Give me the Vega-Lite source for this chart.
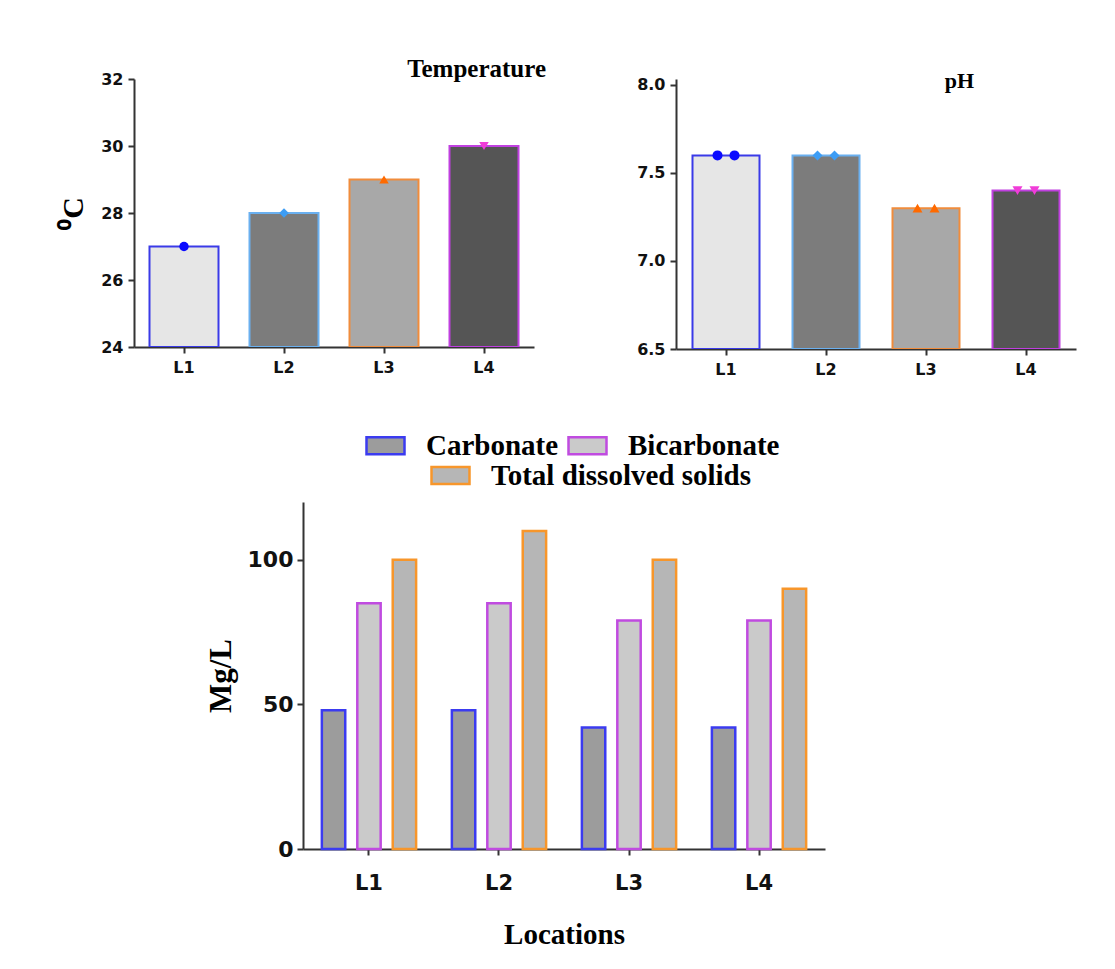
{
  "$schema": "https://vega.github.io/schema/vega-lite/v6.json",
  "background": "white",
  "padding": {"left": 58, "top": 57, "right": 5, "bottom": 5},
  "config": {
    "view": {"stroke": null},
    "font": "Liberation Serif",
    "axis": {
      "domainColor": "#333333", "domainWidth": 2, "tickColor": "#333333", "tickWidth": 2, "tickSize": 6,
      "labelFont": "DejaVu Sans", "labelFontWeight": "bold", "labelColor": "#111111", "grid": false,
      "titleFont": "Liberation Serif", "titleFontWeight": "bold", "titleColor": "#000000"
    },
    "title": {"font": "Liberation Serif", "fontWeight": "bold", "color": "#000000"}
  },
  "datasets": {
    "temp": [
      {"loc": "L1", "value": 27},
      {"loc": "L2", "value": 28},
      {"loc": "L3", "value": 29},
      {"loc": "L4", "value": 30}
    ],
    "ph": [
      {"loc": "L1", "rep": "a", "value": 7.6},
      {"loc": "L1", "rep": "b", "value": 7.6},
      {"loc": "L2", "rep": "a", "value": 7.6},
      {"loc": "L2", "rep": "b", "value": 7.6},
      {"loc": "L3", "rep": "a", "value": 7.3},
      {"loc": "L3", "rep": "b", "value": 7.3},
      {"loc": "L4", "rep": "a", "value": 7.4},
      {"loc": "L4", "rep": "b", "value": 7.4}
    ],
    "ions": [
      {"loc": "L1", "param": "Carbonate", "value": 48},
      {"loc": "L1", "param": "Bicarbonate", "value": 85},
      {"loc": "L1", "param": "Total dissolved solids", "value": 100},
      {"loc": "L2", "param": "Carbonate", "value": 48},
      {"loc": "L2", "param": "Bicarbonate", "value": 85},
      {"loc": "L2", "param": "Total dissolved solids", "value": 110},
      {"loc": "L3", "param": "Carbonate", "value": 42},
      {"loc": "L3", "param": "Bicarbonate", "value": 79},
      {"loc": "L3", "param": "Total dissolved solids", "value": 100},
      {"loc": "L4", "param": "Carbonate", "value": 42},
      {"loc": "L4", "param": "Bicarbonate", "value": 79},
      {"loc": "L4", "param": "Total dissolved solids", "value": 90}
    ]
  },
  "resolve": {"scale": {"fill": "independent", "stroke": "independent", "color": "independent", "shape": "independent", "xOffset": "independent"}},
  "spacing": 48,
  "vconcat": [
    {
      "spacing": 90,
      "hconcat": [
        {
          "width": 400,
          "height": 268,
          "data": {"name": "temp"},
          "title": {"text": "Temperature", "anchor": "end", "frame": "group", "fontSize": 25, "baseline": "alphabetic", "offset": -31, "dx": 12},
          "encoding": {
            "x": {"field": "loc", "type": "nominal", "scale": {"paddingInner": 0.31, "paddingOuter": 0.155},
                  "axis": {"title": null, "labelAngle": 0, "labelFontSize": 16, "labelPadding": 6}},
            "y": {"field": "value", "type": "quantitative", "scale": {"domain": [24, 32], "nice": false, "zero": false},
                  "axis": {"values": [24, 26, 28, 30, 32], "format": "d", "title": "⁰C", "titleFontSize": 30, "titlePadding": 12, "labelFontSize": 16, "labelPadding": 5}}
          },
          "layer": [
            {
              "mark": {"type": "bar", "strokeWidth": 2, "clip": true},
              "encoding": {
                "y2": {"datum": 24},
                "fill": {"field": "loc", "type": "nominal", "legend": null,
                         "scale": {"domain": ["L1", "L2", "L3", "L4"], "range": ["#e6e6e6", "#7c7c7c", "#a8a8a8", "#555555"]}},
                "stroke": {"field": "loc", "type": "nominal", "legend": null,
                           "scale": {"domain": ["L1", "L2", "L3", "L4"], "range": ["#3a3ae8", "#6ab0f0", "#f08c3c", "#c040e0"]}}
              }
            },
            {
              "mark": {"type": "point", "filled": true, "size": 90, "opacity": 1},
              "encoding": {
                "color": {"field": "loc", "type": "nominal", "legend": null,
                          "scale": {"domain": ["L1", "L2", "L3", "L4"], "range": ["#0a0aff", "#3d9df5", "#ff6a00", "#f03cd8"]}},
                "shape": {"field": "loc", "type": "nominal", "legend": null,
                          "scale": {"domain": ["L1", "L2", "L3", "L4"], "range": ["circle", "diamond", "triangle-up", "triangle-down"]}}
              }
            }
          ]
        },
        {
          "width": 400,
          "height": 270,
          "data": {"name": "ph"},
          "title": {"text": "pH", "anchor": "end", "frame": "group", "fontSize": 22, "baseline": "alphabetic", "offset": -33, "dx": -102},
          "encoding": {
            "x": {"field": "loc", "type": "nominal", "scale": {"paddingInner": 0.33, "paddingOuter": 0.165},
                  "axis": {"title": null, "labelAngle": 0, "labelFontSize": 16, "labelPadding": 6}},
            "y": {"field": "value", "type": "quantitative", "scale": {"domain": [6.5, 8.034], "nice": false, "zero": false},
                  "axis": {"values": [6.5, 7.0, 7.5, 8.0], "format": ".1f", "title": null, "labelFontSize": 16, "labelPadding": 5}}
          },
          "layer": [
            {
              "mark": {"type": "bar", "strokeWidth": 2, "clip": true},
              "encoding": {
                "y": {"aggregate": "mean", "field": "value", "type": "quantitative"},
                "y2": {"datum": 6.5},
                "fill": {"field": "loc", "type": "nominal", "legend": null,
                         "scale": {"domain": ["L1", "L2", "L3", "L4"], "range": ["#e6e6e6", "#7c7c7c", "#a8a8a8", "#555555"]}},
                "stroke": {"field": "loc", "type": "nominal", "legend": null,
                           "scale": {"domain": ["L1", "L2", "L3", "L4"], "range": ["#3a3ae8", "#6ab0f0", "#f08c3c", "#c040e0"]}}
              }
            },
            {
              "transform": [{"filter": "datum.rep === 'a'"}],
              "mark": {"type": "point", "filled": true, "size": 100, "opacity": 1, "xOffset": -8.5},
              "encoding": {
                "color": {"field": "loc", "type": "nominal", "legend": null,
                          "scale": {"domain": ["L1", "L2", "L3", "L4"], "range": ["#0a0aff", "#3d9df5", "#ff6a00", "#f03cd8"]}},
                "shape": {"field": "loc", "type": "nominal", "legend": null,
                          "scale": {"domain": ["L1", "L2", "L3", "L4"], "range": ["circle", "diamond", "triangle-up", "triangle-down"]}}
              }
            },
            {
              "transform": [{"filter": "datum.rep === 'b'"}],
              "mark": {"type": "point", "filled": true, "size": 100, "opacity": 1, "xOffset": 8.5},
              "encoding": {
                "color": {"field": "loc", "type": "nominal", "legend": null,
                          "scale": {"domain": ["L1", "L2", "L3", "L4"], "range": ["#0a0aff", "#3d9df5", "#ff6a00", "#f03cd8"]}},
                "shape": {"field": "loc", "type": "nominal", "legend": null,
                          "scale": {"domain": ["L1", "L2", "L3", "L4"], "range": ["circle", "diamond", "triangle-up", "triangle-down"]}}
              }
            }
          ]
        }
      ]
    },
    {
      "spacing": 0,
      "resolve": {"scale": {"xOffset": "independent", "fill": "independent", "stroke": "independent"}, "legend": {"fill": "independent", "stroke": "independent"}},
      "hconcat": [
        {
          "width": 71,
          "height": 10,
          "data": {"values": []},
          "mark": {"type": "point", "opacity": 0},
          "encoding": {}
        },
        {
          "width": 522,
          "height": 347,
          "data": {"name": "ions"},
          "mark": {"type": "bar", "strokeWidth": 2.5},
          "encoding": {
            "x": {"field": "loc", "type": "nominal", "scale": {"paddingInner": 0.275, "paddingOuter": 0.145},
                  "axis": {"title": "Locations", "labelAngle": 0, "labelFontSize": 21, "labelPadding": 17, "titleFontSize": 29, "titlePadding": 27}},
            "xOffset": {"field": "param", "type": "nominal", "sort": ["Carbonate", "Bicarbonate", "Total dissolved solids"],
                        "scale": {"domain": ["Carbonate", "Bicarbonate", "Total dissolved solids"], "paddingInner": 0.34, "paddingOuter": 0}},
            "y": {"field": "value", "type": "quantitative", "scale": {"domain": [0, 120], "nice": false},
                  "axis": {"values": [0, 50, 100], "title": "Mg/L", "titleFontSize": 31, "titlePadding": 10, "labelFontSize": 22, "labelPadding": 4}},
            "fill": {"field": "param", "type": "nominal",
                     "scale": {"domain": ["Carbonate", "Bicarbonate", "Total dissolved solids"], "range": ["#9c9c9c", "#cacaca", "#b6b6b6"]},
                     "legend": {"title": null, "orient": "none", "legendX": 62, "legendY": -77, "direction": "horizontal",
                                "values": ["Carbonate", "Bicarbonate"],
                                "symbolType": "M-1,-0.45H1V0.45H-1Z", "symbolSize": 1444, "symbolStrokeWidth": 2.5,
                                "labelFont": "Liberation Serif", "labelFontWeight": "bold", "labelFontSize": 29, "labelColor": "#000000",
                                "labelOffset": 20, "columnPadding": 4, "labelLimit": 500,
                                "encode": {"symbols": {"update": {"stroke": {"signal": "datum.value === 'Carbonate' ? '#3b3bf0' : '#c04be0'"}, "strokeWidth": {"value": 2.5}}}}}},
            "stroke": {"field": "param", "type": "nominal",
                       "scale": {"domain": ["Total dissolved solids", "Carbonate", "Bicarbonate"], "range": ["#f7962b", "#3b3bf0", "#c04be0"]},
                       "legend": {"title": null, "orient": "none", "legendX": 127, "legendY": -47, "direction": "horizontal",
                                  "values": ["Total dissolved solids"],
                                  "symbolType": "M-1,-0.45H1V0.45H-1Z", "symbolSize": 1444, "symbolStrokeWidth": 2.5,
                                  "symbolFillColor": "#b6b6b6",
                                  "labelFont": "Liberation Serif", "labelFontWeight": "bold", "labelFontSize": 29, "labelColor": "#000000",
                                  "labelOffset": 20, "labelLimit": 500,
                                  "encode": {"symbols": {"update": {"fill": {"value": "#b6b6b6"}}}}}}
          }
        }
      ]
    }
  ]
}
